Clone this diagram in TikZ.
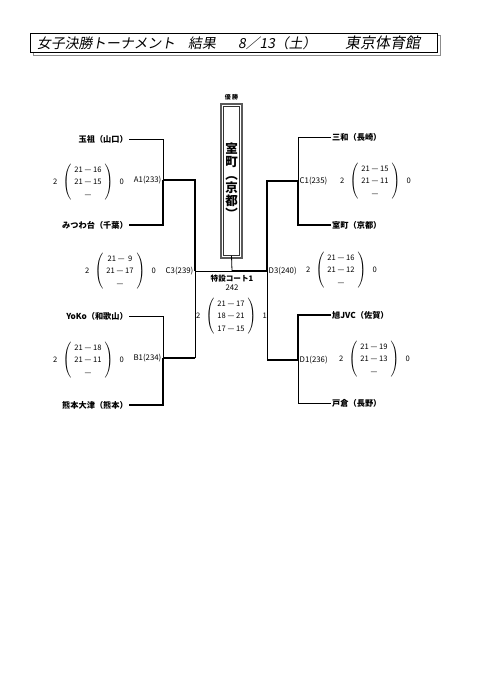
\documentclass[tikz,border=0pt]{standalone}
\usepackage{fontspec}
\setmainfont{Noto Sans CJK JP}
\newfontfamily\titlefont[FakeSlant=0.18]{Noto Sans CJK JP}
\usetikzlibrary{positioning}
\definecolor{framegray}{HTML}{8c8c8c}
\definecolor{boxgray}{HTML}{5a5a5a}
\newcommand{\setscores}[3]{$\left(\begin{array}{@{\hspace{3pt}}c@{\hspace{3pt}}}\mbox{#1}\\\mbox{#2}\\\mbox{#3}\end{array}\right)$}

\begin{document}
\begin{tikzpicture}[x=1pt, y=-1pt,
    team/.style={font=\fontsize{8.2}{9}\selectfont\bfseries, inner sep=1pt},
    match/.style={font=\fontsize{7.8}{8}\selectfont, inner sep=1.5pt},
    scorebox/.style={font=\fontsize{7.6}{12.5}\selectfont, inner sep=0pt},
    pts/.style={font=\fontsize{7.6}{8}\selectfont, inner sep=1pt},
    lose/.style={line width=0.8pt},
    win/.style={line width=2.4pt},
    headline/.style={font=\titlefont\fontsize{13.8}{16}\selectfont, anchor=west, inner sep=0pt}]

  % page
  \fill[white] (0,0) rectangle (480,680);

  % title
  \draw[framegray, line width=0.8pt] (33,35) rectangle (440,55);
  \draw[fill=white, line width=0.8pt] (30,33) rectangle (437,52);
  \node[headline] (ttl) at (37,43) {女子決勝トーナメント};
  \node[headline] (ttlres) at (188,43) {結果};
  \node[headline] (ttldate) at (238,43) {8／13（土）};
  \node[headline, font=\titlefont\fontsize{15}{16}\selectfont] (ttlhall) at (345,43) {東京体育館};

  % match points
  \coordinate (a1) at (163,180);
  \coordinate (b1) at (163,358);
  \coordinate (c3) at (195,271);
  \coordinate (c1) at (298,181);
  \coordinate (d1) at (298,360);
  \coordinate (d3) at (267,271);
  \coordinate (fin) at (232,271);

  % left block
  \node[team, anchor=east] (tamaso) at (129,139) {玉祖（山口）};
  \node[team, anchor=east] (mitsuwa) at (129,225) {みつわ台（千葉）};
  \node[team, anchor=east] (yoko) at (129,316) {YoKo（和歌山）};
  \node[team, anchor=east] (kumamoto) at (129,405) {熊本大津（熊本）};

  \draw[lose] (tamaso.east) -| (a1);
  \draw[win] (mitsuwa.east) -| (a1);
  \draw[lose] (yoko.east) -| (b1);
  \draw[win] (kumamoto.east) -| (b1);
  \draw[win] (a1) -| (c3);
  \draw[win] (b1) -- (b1 -| c3);
  \draw[lose] (b1 -| c3) -- (c3);

  \node[match, anchor=east] (a1lbl) at (a1) {A1(233)};
  \node[match, anchor=east] (b1lbl) at (b1) {B1(234)};
  \node[match, anchor=east] (c3lbl) at (c3) {C3(239)};

  \node[scorebox] (a1sc) at (88,182) {\setscores{21 — 16}{21 — 15}{—}};
  \node[pts, left=4pt of a1sc] (a1l) {2};
  \node[pts, right=5pt of a1sc] (a1r) {0};
  \node[scorebox] (c3sc) at (120,271) {\setscores{21 —\ \ 9}{21 — 17}{—}};
  \node[pts, left=4pt of c3sc] (c3l) {2};
  \node[pts, right=5pt of c3sc] (c3r) {0};
  \node[scorebox] (b1sc) at (88,360) {\setscores{21 — 18}{21 — 11}{—}};
  \node[pts, left=4pt of b1sc] (b1l) {2};
  \node[pts, right=5pt of b1sc] (b1r) {0};

  % right block
  \node[team, anchor=west] (miwa) at (331,137) {三和（長崎）};
  \node[team, anchor=west] (muromachi) at (331,225) {室町（京都）};
  \node[team, anchor=west] (asahi) at (331,315) {旭JVC（佐賀）};
  \node[team, anchor=west] (tokura) at (331,403) {戸倉（長野）};

  \draw[lose] (miwa.west) -| (c1);
  \draw[win] (muromachi.west) -| (c1);
  \draw[win] (asahi.west) -| (d1);
  \draw[lose] (tokura.west) -| (d1);
  \draw[win] (c1) -| (d3);
  \draw[win] (d1) -- (d1 -| d3);
  \draw[lose] (d1 -| d3) -- (d3);

  \node[match, anchor=west] (c1lbl) at (c1) {C1(235)};
  \node[match, anchor=west] (d1lbl) at (d1) {D1(236)};
  \node[match, anchor=west] (d3lbl) at (d3) {D3(240)};

  \node[scorebox] (c1sc) at (375,181) {\setscores{21 — 15}{21 — 11}{—}};
  \node[pts, left=4pt of c1sc] (c1l) {2};
  \node[pts, right=5pt of c1sc] (c1r) {0};
  \node[scorebox] (d3sc) at (341,270) {\setscores{21 — 16}{21 — 12}{—}};
  \node[pts, left=4pt of d3sc] (d3l) {2};
  \node[pts, right=5pt of d3sc] (d3r) {0};
  \node[scorebox] (d1sc) at (374,359) {\setscores{21 — 19}{21 — 13}{—}};
  \node[pts, left=4pt of d1sc] (d1l) {2};
  \node[pts, right=5pt of d1sc] (d1r) {0};

  % final and champion
  \draw[boxgray, line width=1.4pt] (221,104) rectangle (242,258);
  \node[draw=black!80, line width=0.5pt, minimum width=16pt, minimum height=149pt,
        inner sep=0pt, align=center, font=\fontsize{12.5}{13}\selectfont\bfseries]
        (champ) at (231.5,181) {室\\町\\︵\\京\\都\\︶};
  \node[font=\fontsize{6}{7}\selectfont\bfseries, above=3pt of champ] (champlbl) {優\ 勝};

  \draw[lose] (c3) -- (fin);
  \draw[win] (d3) -- (fin);
  \draw[lose] (champ.south) -- (fin);

  \node[match, font=\fontsize{7.6}{8}\selectfont\bfseries, below=2pt of fin] (court) {特設コート1};
  \node[match, below=0pt of court] (courtno) {242};
  \node[scorebox] (finsc) at (231,316) {\setscores{21 — 17}{18 — 21}{17 — 15}};
  \node[pts, left=4pt of finsc] (finl) {2};
  \node[pts, right=5pt of finsc] (finr) {1};
\end{tikzpicture}
\end{document}
